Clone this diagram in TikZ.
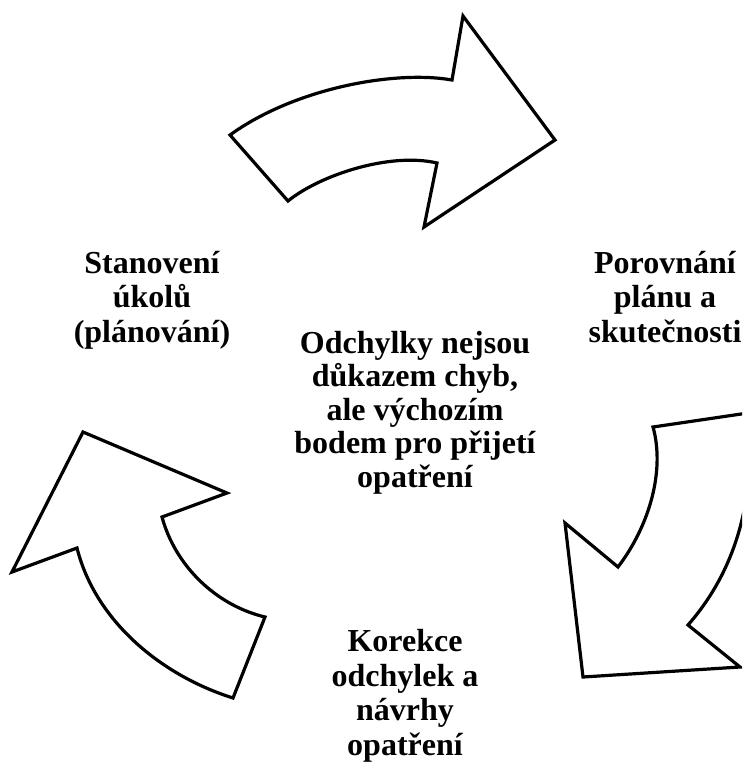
\documentclass[tikz,border=0pt]{standalone}
\usepackage{fontspec}
\setmainfont{Liberation Serif}
\begin{document}
\begin{tikzpicture}[x=1pt,y=-1pt,
  cyclearrow/.style={draw=black,line width=3.2pt,fill=white,line join=miter,miter limit=10},
  label/.style={font=\fontsize{32}{34.5}\selectfont\bfseries,align=center,inner sep=0pt,anchor=base},
  tightlabel/.style={label,font=\fontsize{32}{33.5}\selectfont\bfseries}]
\useasboundingbox (0,0) rectangle (742,773);
\clip (0,0) rectangle (742,773);
% upper arrow, pointing right
\draw[cyclearrow] (230,135) -- (288,201)
  .. controls (320,175) and (390,152) .. (437,163)
  -- (424,227) -- (555,140) -- (463,16) -- (452,80)
  .. controls (395,70) and (295,88) .. (230,135) -- cycle;
% right arrow, pointing down
\draw[cyclearrow] (653,427) -- (748,413)
  .. controls (755,480) and (745,560) .. (688,625)
  -- (740,667) -- (583,677) -- (565,523) -- (618,567)
  .. controls (650,525) and (665,470) .. (653,427) -- cycle;
% left arrow, pointing up
\draw[cyclearrow] (83,432) -- (227,493) -- (162,517)
  .. controls (175,565) and (215,605) .. (265,617)
  -- (233,698)
  .. controls (160,675) and (95,620) .. (77,548)
  -- (12,572) -- cycle;
% labels (the base anchor sits on the last line)
\node[label] (plan) at (152,342) {Stanovení\\úkolů\\(plánování)};
\node[label] (compare) at (665,342) {Porovnání\\plánu a\\skutečnosti};
\node[tightlabel] (centre) at (415,487) {Odchylky nejsou\\důkazem chyb,\\ale výchozím\\bodem pro přijetí\\opatření};
\node[label] (correct) at (405,755) {Korekce\\odchylek a\\návrhy\\opatření};
\end{tikzpicture}
\end{document}
